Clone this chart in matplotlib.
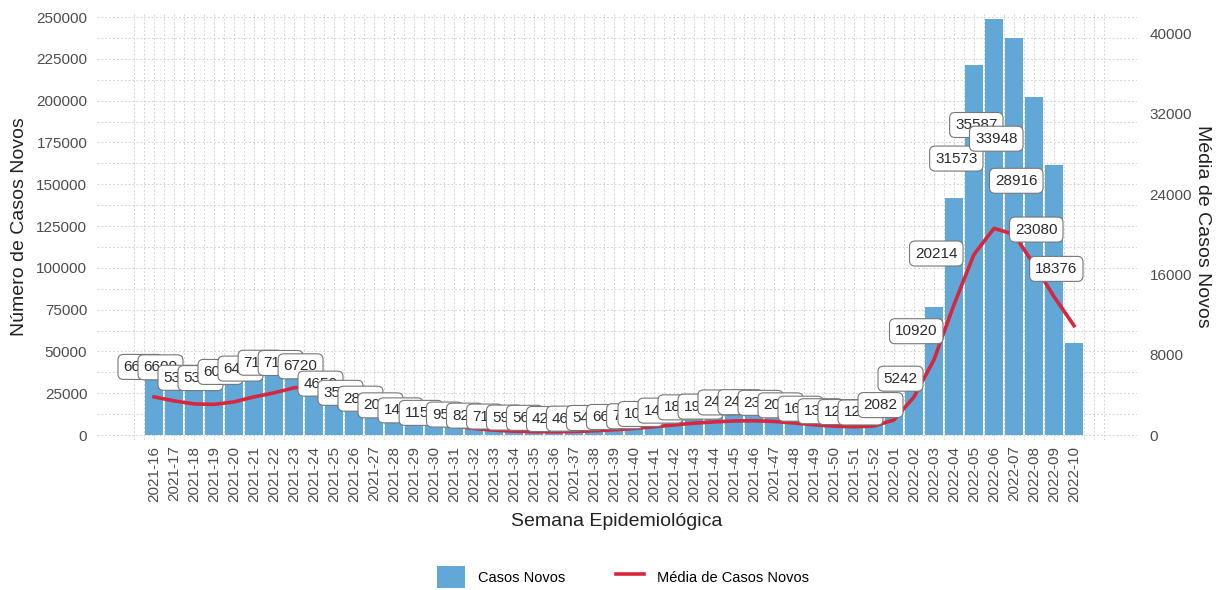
import matplotlib
matplotlib.use("Agg")
import matplotlib.pyplot as plt
from matplotlib.patches import Patch
from matplotlib.lines import Line2D
import numpy as np

plt.rcParams['font.family'] = ['Liberation Sans', 'DejaVu Sans']

# semanas epidemiologicas
semanas = ['2021-16', '2021-17', '2021-18', '2021-19', '2021-20', '2021-21', '2021-22',
           '2021-23', '2021-24', '2021-25', '2021-26', '2021-27', '2021-28', '2021-29',
           '2021-30', '2021-31', '2021-32', '2021-33', '2021-34', '2021-35', '2021-36',
           '2021-37', '2021-38', '2021-39', '2021-40', '2021-41', '2021-42', '2021-43',
           '2021-44', '2021-45', '2021-46', '2021-47', '2021-48', '2021-49', '2021-50',
           '2021-51', '2021-52', '2022-01', '2022-02', '2022-03', '2022-04', '2022-05',
           '2022-06', '2022-07', '2022-08', '2022-09', '2022-10']

# casos novos por semana (eixo esquerdo)
casos = [46550, 46200, 37450, 37200, 42350, 45150, 50050,
         49840, 47040, 32550, 24850, 19950, 14350, 10150,
         8050, 6650, 5740, 4970, 4130, 3920, 2940,
         3220, 3780, 4620, 5250, 7140, 9940, 12670,
         13300, 16800, 17010, 16450, 14350, 11550, 9450,
         8750, 8400, 14574, 36694, 76440, 141498, 221011,
         249109, 237636, 202412, 161560, 55000]

# media diaria mostrada nos rotulos
media_rotulo = [6650, 6600, 5350, 5310, 6050, 6450, 7150,
                7120, 6720, 4650, 3550, 2850, 2050, 1450,
                1150, 950, 820, 710, 590, 560, 420,
                460, 540, 660, 750, 1020, 1420, 1810,
                1900, 2400, 2430, 2350, 2050, 1650, 1350,
                1250, 1200, 2082, 5242, 10920, 20214, 31573,
                35587, 33948, 28916, 23080, 18376]

# curva suavizada da media (eixo direito)
media_linha = [3800, 3400, 3100, 3050, 3300, 3800, 4200,
               4700, 4900, 4500, 3800, 3000, 2300, 1700,
               1250, 900, 650, 480, 380, 330, 320,
               350, 420, 520, 650, 820, 1000, 1180,
               1300, 1400, 1420, 1350, 1200, 1020, 880,
               820, 900, 1500, 3800, 7500, 13000, 18000,
               20600, 20000, 17000, 13800, 10900]

azul = '#62a8d7'
vermelho = '#d7263d'
fator = 6.0

fig = plt.figure(figsize=(12.21, 5.90), dpi=100)
ax = fig.add_axes([97 / 1221, 150 / 590, 1040 / 1221, 427 / 590])

x = np.arange(len(semanas))

# grade pontilhada
for yv in np.arange(0, 250001, 12500):
    ax.axhline(yv, color='#d4d4d4', lw=0.7, ls=(0, (2, 2)), zorder=0)
for xv in np.arange(-1, len(semanas) + 0.6, 0.5):
    ax.axvline(xv, color='#d4d4d4', lw=0.7, ls=(0, (2, 2)), zorder=0)

ax.bar(x, casos, width=0.9, color=azul, zorder=2)
ax.plot(x, np.array(media_linha) * fator, color=vermelho, lw=2.6, zorder=3)

pad = 0.36
fs = 11
for i, v in enumerate(media_rotulo):
    ax.annotate(str(v), xy=(i + 0.45, 5 * v), xytext=(-pad * fs, pad * fs),
                textcoords='offset points', ha='right', va='bottom', fontsize=fs,
                color='#2b2b2b', zorder=4,
                bbox=dict(boxstyle='round,pad=%.2f' % pad, fc='white', ec='#777777', lw=0.8))

ax.set_xlim(-2.85, 49.15)
ax.set_ylim(-2990, 252400)

ax.set_xticks(x)
ax.set_xticklabels(semanas, rotation=90, fontsize=11, color='#4d4d4d')
yt = list(range(0, 250001, 25000))
ax.set_yticks(yt)
ax.set_yticklabels([str(v) for v in yt], fontsize=11, color='#4d4d4d')
ax.tick_params(length=0)
ax.tick_params(axis='x', pad=4)
ax.tick_params(axis='y', pad=7)
for s in ax.spines.values():
    s.set_visible(False)

ax.set_xlabel('Semana Epidemiológica', fontsize=14, color='#222222', labelpad=8)
ax.set_ylabel('Número de Casos Novos', fontsize=14, color='#222222', labelpad=6)

sec = ax.secondary_yaxis('right', functions=(lambda y: y / fator, lambda y: y * fator))
st = [0, 8000, 16000, 24000, 32000, 40000]
sec.set_yticks(st)
sec.set_yticklabels([str(v) for v in st], fontsize=11, color='#4d4d4d')
sec.tick_params(length=0, pad=9)
for s in sec.spines.values():
    s.set_visible(False)
sec.set_ylabel('Média de Casos Novos', fontsize=14, color='#222222', rotation=270, labelpad=14)

handles = [Patch(facecolor=azul, label='Casos Novos'),
           Line2D([], [], color=vermelho, lw=2.6, label='Média de Casos Novos')]
fig.legend(handles=handles, loc='center', bbox_to_anchor=(623 / 1221, 1 - 577 / 590), ncol=2,
           frameon=False, fontsize=10.5, handlelength=1.9, handleheight=1.9,
           handletextpad=0.9, columnspacing=3.5)

fig.savefig('out.png', dpi=100)
